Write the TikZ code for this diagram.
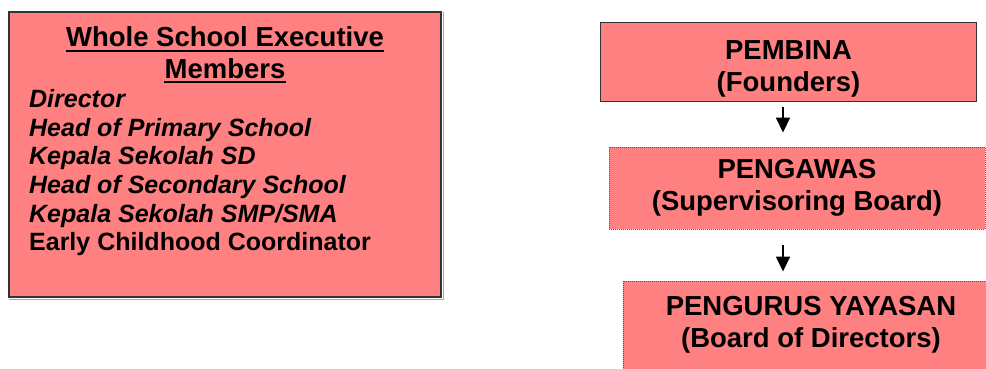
\documentclass[tikz,border=0pt]{standalone}
\usepackage{fontspec}
\setmainfont{Liberation Sans}
\usetikzlibrary{arrows.meta}

\definecolor{boxpink}{HTML}{FF8080}
\definecolor{edgegray}{HTML}{333333}

\begin{document}
\begin{tikzpicture}[x=1pt,y=-1pt,
  execbox/.style={draw=edgegray,line width=1.2pt,fill=boxpink,inner sep=0pt,minimum width=432pt,minimum height=285pt},
  board/.style={draw=edgegray,line width=0.9pt,fill=boxpink,inner sep=0pt,minimum width=376pt},
  dotboard/.style={board,draw=black!65,dash pattern=on 1pt off 1pt},
  headtext/.style={inner sep=0pt,anchor=base,font=\fontsize{27.5}{31.6}\selectfont\bfseries},
  underbar/.style={line width=1.6pt},
  itemtext/.style={inner sep=0pt,anchor=base west,font=\fontsize{25}{28.7}\selectfont\bfseries},
  boardtext/.style={inner sep=0pt,align=center,font=\fontsize{27.5}{31.6}\selectfont\bfseries},
  flow/.style={-{Triangle[length=15pt,width=14pt]},line width=1.6pt}]
\useasboundingbox (0,0) rectangle (986,368);
\clip (0,0) rectangle (986,368);

\node[execbox] (exec) at (225,154.5) {};
\draw[black!35,line width=1pt] ([shift={(1pt,-1.5pt)}]exec.south west) -- ([shift={(1.5pt,-1.5pt)}]exec.south east) -- ([shift={(1.5pt,-1pt)}]exec.north east);

\node[headtext] (head1) at (225,46.7) {Whole School Executive};
\node[headtext] (head2) at (225,78) {Members};
\foreach \h in {head1,head2}
  \draw[underbar] ([yshift=-4.2pt]\h.base west) -- ([yshift=-4.2pt]\h.base east);
\foreach \who [count=\i from 0] in {Director,Head of Primary School,Kepala Sekolah SD,Head of Secondary School,Kepala Sekolah SMP/SMA}
  \node[itemtext] (member\i) at (29,107.3+28.7*\i) {\itshape\who};
\node[itemtext] (member5) at (29,250.8) {Early Childhood Coordinator};

\node[board,minimum height=79pt] (pembina) at (788.5,61.5) {};
\node[dotboard,minimum height=82pt] (pengawas) at (797,188) {};
\node[dotboard,minimum height=88pt] (pengurus) at (811,325) {};

\node[boardtext] (pembinatext) at (788.5,69) {PEMBINA\\(Founders)};
\node[boardtext] (pengawastext) at (pengawas) {PENGAWAS\\(Supervisoring Board)};
\node[boardtext] (pengurustext) at (pengurus) {PENGURUS YAYASAN\\(Board of Directors)};

\draw[flow] ([xshift=-5.5pt,yshift=-6pt]pembina.south) -- ([xshift=-14pt,yshift=14pt]pengawas.north);
\draw[flow] ([xshift=-14pt,yshift=-16pt]pengawas.south) -- ([xshift=-28pt,yshift=9pt]pengurus.north);
\end{tikzpicture}
\end{document}
